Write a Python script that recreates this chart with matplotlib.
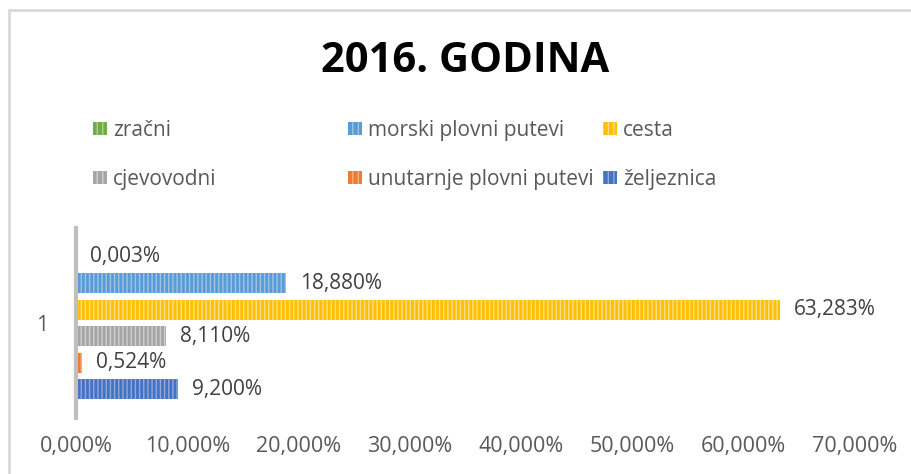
import matplotlib
matplotlib.use("Agg")
import matplotlib.pyplot as plt
from matplotlib.ticker import FuncFormatter, MultipleLocator
from matplotlib.patches import Rectangle, Patch

plt.rcParams['font.family'] = ['Open Sans', 'DejaVu Sans']
plt.rcParams['hatch.linewidth'] = 1.0

title = "2016. GODINA"
category = "1"
series = ['zračni', 'morski plovni putevi', 'cesta', 'cjevovodni',
          'unutarnje plovni putevi', 'željeznica']
values = [0.003, 18.880, 63.283, 8.110, 0.524, 9.200]
colors = ['#70AD47', '#5B9BD5', '#FFC000', '#A5A5A5', '#ED7D31', '#4472C4']
hatch_colors = ['#A9D18E', '#9DC3E6', '#FFE08A', '#D0D0D0', '#F4B183', '#8FAADC']

W, H = 912, 474
fig = plt.figure(figsize=(W / 100, H / 100), dpi=100)

# outer chart border
fig.patches.append(Rectangle((9 / W, -0.1), 1.2, 1 - 10 / H + 0.1,
                             transform=fig.transFigure, fill=False,
                             edgecolor='#D9D9D9', linewidth=2))

ax = fig.add_axes([76 / W, 1 - 418 / H, (855 - 76) / W, (418 - 228) / H])

slot = 0.139
bh = 0.105
n = len(series)
for i, (s, v, c, hc) in enumerate(zip(series, values, colors, hatch_colors)):
    y = (n - 1) / 2 * slot - i * slot
    bars = ax.barh(y, v, height=bh, color=c, edgecolor=hc, hatch='||||',
                   linewidth=0, label=s)
    ax.bar_label(bars, labels=[f"{v:.3f}%".replace('.', ',')], padding=10,
                 fontsize=15, color='#404040')

ax.set_xlim(0, 70)
ax.set_ylim(-0.5, 0.5)
ax.xaxis.set_major_locator(MultipleLocator(10))
ax.xaxis.set_major_formatter(FuncFormatter(lambda x, p: f"{x:.3f}%".replace('.', ',')))
ax.set_yticks([0])
ax.set_yticklabels([category])
ax.tick_params(axis='x', length=0, pad=13, labelsize=15.5, labelcolor='#595959')
ax.tick_params(axis='y', length=0, pad=20, labelsize=15.5, labelcolor='#595959')
for sp in ['top', 'right', 'bottom']:
    ax.spines[sp].set_visible(False)
ax.spines['left'].set_color('#BFBFBF')
ax.spines['left'].set_linewidth(3)

fig.text(465 / W, 1 - 62 / H, title, ha='center', va='center',
         fontsize=30, fontweight='bold', color='black')

# legend in three columns, each with two rows
handles = [Patch(facecolor=c, edgecolor=hc, hatch='|||', linewidth=0)
           for c, hc in zip(colors, hatch_colors)]
col_pos = [93, 348, 603]
cols = [(0, 3), (1, 4), (2, 5)]
for x0, (a, b) in zip(col_pos, cols):
    leg = fig.legend([handles[a], handles[b]], [series[a], series[b]],
                     loc='upper left', bbox_to_anchor=(x0 / W, 1 - 120 / H),
                     frameon=False, fontsize=15, labelcolor='#595959',
                     handlelength=0.67, handleheight=0.6, handletextpad=0.3,
                     labelspacing=1.33, borderpad=0, borderaxespad=0)

fig.savefig('out.png', dpi=100)
